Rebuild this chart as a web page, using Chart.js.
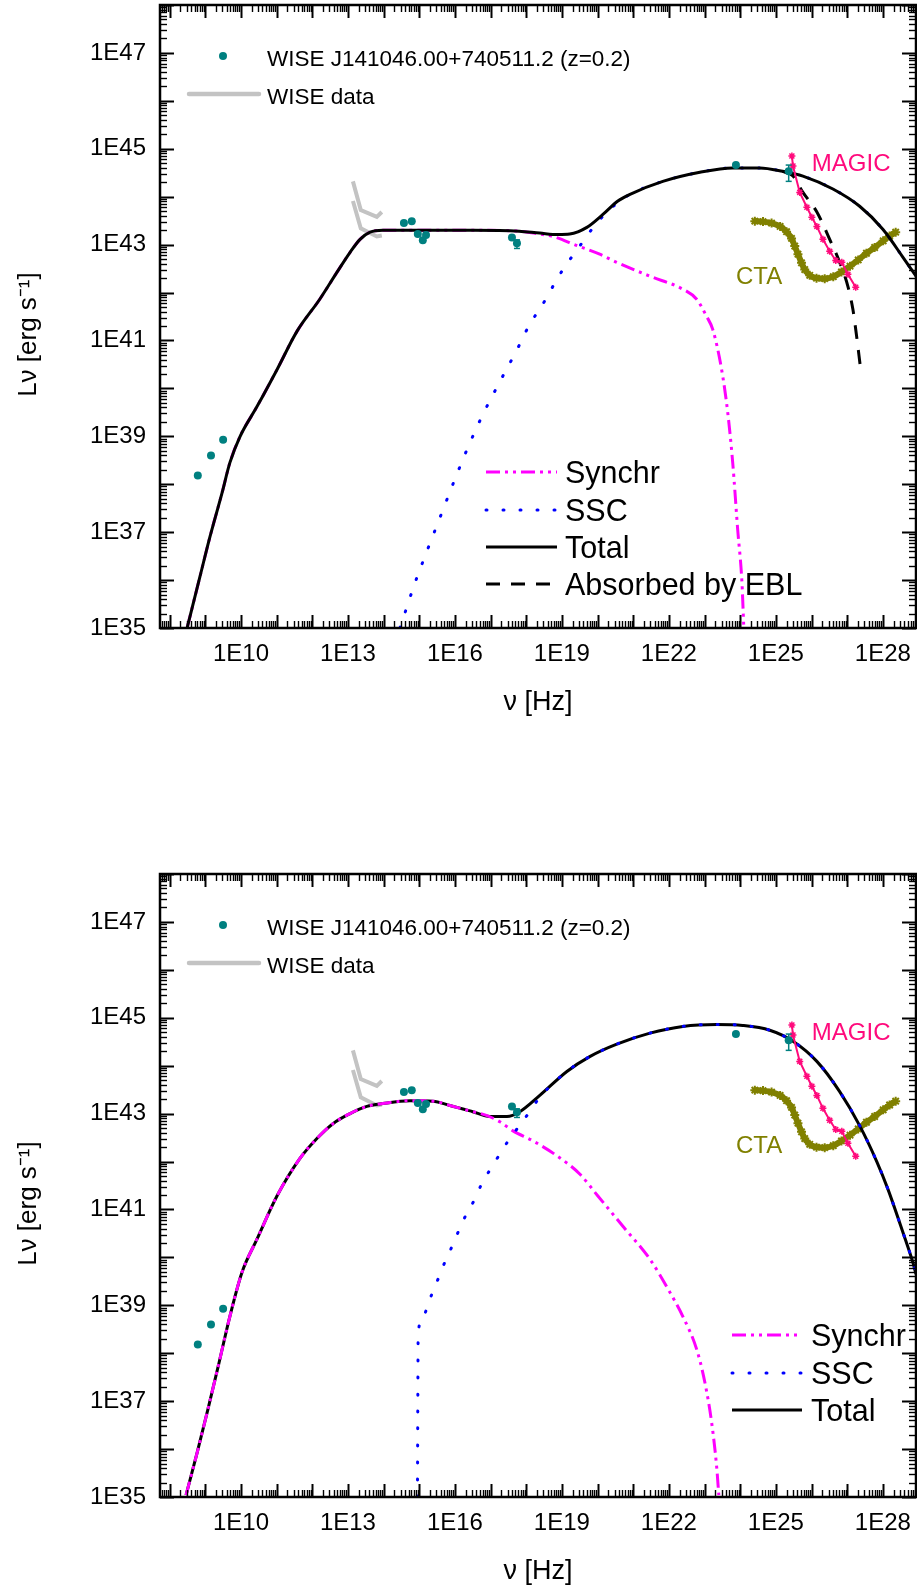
<!DOCTYPE html>
<html><head><meta charset="utf-8">
<script src="https://cdn.jsdelivr.net/npm/chart.js@4.4.1/dist/chart.umd.min.js"></script>
<style>
html,body{margin:0;padding:0;background:#fff;}
.wrap{position:absolute;left:0;width:917px;height:719px;}
</style></head><body>
<div class="wrap" style="top:0"><canvas id="c1" width="917" height="719"></canvas></div>
<div class="wrap" style="top:869px"><canvas id="c2" width="917" height="719"></canvas></div>
<script>
// ---------- values (log10 of frequency [Hz] and log10 of luminosity [erg/s]) ----------
const xTickExps = [10, 13, 16, 19, 22, 25, 28];
const yTickExps = [35, 37, 39, 41, 43, 45, 47];

// observed data points
const obsNu = [8.79, 9.16, 9.50, 14.57, 14.79, 14.96, 15.19, 15.10, 17.60, 17.74, 23.88, 25.36];
const obsL  = [38.18, 38.60, 38.93, 43.45, 43.49, 43.22, 43.20, 43.09, 43.15, 43.03, 44.66, 44.53];
// error bars
const errNu = [17.74, 25.36];
const errLo = [42.92, 44.32];
const errHi = [43.10, 44.66];

// WISE data (two gray polylines)
const wise1Nu = [13.14, 13.36, 13.81, 13.95];
const wise1L  = [44.32, 43.72, 43.58, 43.68];
const wise2Nu = [13.14, 13.36, 13.81, 13.95];
const wise2L  = [43.91, 43.34, 43.17, 43.19];

// MAGIC sensitivity
const magicNu = [25.45, 25.48, 25.67, 25.87, 26.01, 26.15, 26.32, 26.51, 26.68, 26.85, 27.02, 27.24];
const magicL  = [44.85, 44.64, 44.09, 43.78, 43.57, 43.38, 43.11, 42.86, 42.67, 42.63, 42.38, 42.11];
// CTA sensitivity
const ctaNu = [24.41, 24.64, 24.88, 25.12, 25.30, 25.44, 25.53, 25.62, 25.72, 25.81, 25.95, 26.14, 26.37, 26.61, 26.84, 27.08, 27.31, 27.54, 27.77, 28.01, 28.19, 28.36];
const ctaL  = [43.49, 43.48, 43.45, 43.38, 43.27, 43.13, 42.97, 42.80, 42.62, 42.48, 42.36, 42.30, 42.29, 42.33, 42.43, 42.55, 42.68, 42.82, 42.94, 43.08, 43.18, 43.26];

// ---- top panel model ----
const synchTopNu = [8.49, 8.85, 9.13, 9.47, 9.69, 9.97, 10.45, 11.01, 11.57, 12.21, 12.69, 13.06, 13.34, 13.62, 13.98, 15.0, 16.5, 17.8, 18.38, 18.75, 19.42, 20.06, 20.54, 21.47, 22.39, 22.78, 23.06, 23.23, 23.48, 23.65, 23.79, 23.93, 24.05, 24.10];
const synchTopL  = [35.0, 36.07, 36.90, 37.82, 38.45, 38.99, 39.62, 40.39, 41.19, 41.86, 42.42, 42.84, 43.11, 43.26, 43.30, 43.30, 43.30, 43.28, 43.22, 43.17, 42.98, 42.80, 42.63, 42.34, 42.07, 41.86, 41.50, 41.23, 40.39, 39.50, 38.45, 37.05, 35.94, 35.02];
const sscTopNu = [14.46, 14.88, 15.24, 15.61, 15.97, 16.36, 16.78, 17.26, 17.77, 18.05, 18.58, 18.86, 19.17, 19.50, 19.84, 20.29, 20.71, 20.91, 21.83, 22.87, 23.79, 24.55, 25.19, 25.76, 26.60, 27.35, 28.00, 28.56, 28.95];
const sscTopL  = [35.0, 35.94, 36.65, 37.36, 38.05, 38.76, 39.45, 40.14, 40.85, 41.27, 41.90, 42.28, 42.63, 42.97, 43.32, 43.70, 43.95, 44.05, 44.32, 44.51, 44.60, 44.60, 44.53, 44.43, 44.16, 43.80, 43.32, 42.74, 42.32];
const totalTopNu = [8.49, 8.85, 9.13, 9.47, 9.69, 9.97, 10.45, 11.01, 11.57, 12.21, 12.69, 13.06, 13.34, 13.62, 13.98, 15.0, 16.5, 17.8, 18.38, 18.9, 19.22, 19.70, 20.15, 20.57, 20.91, 21.83, 22.87, 23.79, 24.55, 25.19, 25.76, 26.60, 27.35, 28.00, 28.56, 28.95];
const totalTopL  = [35.0, 36.07, 36.90, 37.82, 38.45, 38.99, 39.62, 40.39, 41.19, 41.86, 42.42, 42.84, 43.11, 43.26, 43.30, 43.30, 43.30, 43.28, 43.24, 43.21, 43.22, 43.36, 43.63, 43.91, 44.05, 44.32, 44.51, 44.60, 44.60, 44.53, 44.43, 44.16, 43.80, 43.32, 42.74, 42.32];
const eblNu = [25.19, 25.48, 25.76, 26.15, 26.51, 26.79, 27.02, 27.16, 27.24, 27.38];
const eblL  = [44.53, 44.43, 44.09, 43.68, 43.11, 42.63, 42.13, 41.65, 41.23, 40.39];

// ---- bottom panel model ----
const synchBotNu = [8.46, 8.77, 9.07, 9.36, 9.69, 10.03, 10.45, 11.01, 11.65, 12.13, 12.58, 13.06, 13.53, 13.98, 14.74, 15.38, 15.86, 16.50, 16.90, 17.26, 17.63, 18.19, 18.86, 19.50, 20.01, 20.71, 21.47, 22.03, 22.39, 22.78, 23.01, 23.20, 23.34, 23.40];
const synchBotL  = [35.04, 35.92, 36.82, 37.72, 38.77, 39.69, 40.38, 41.28, 42.06, 42.48, 42.79, 43.00, 43.15, 43.21, 43.27, 43.26, 43.17, 43.04, 42.96, 42.83, 42.64, 42.43, 42.12, 41.74, 41.28, 40.65, 39.96, 39.27, 38.77, 38.08, 37.39, 36.55, 35.63, 35.04];
const sscBotNu = [14.95, 14.96, 14.97, 15.10, 15.27, 15.47, 15.66, 15.86, 16.08, 16.28, 16.56, 16.78, 17.06, 17.35, 17.68, 18.02, 18.38, 19.14, 19.78, 20.54, 21.47, 22.39, 23.34, 24.07, 24.83, 25.48, 26.15, 26.79, 27.35, 27.83, 28.14, 28.56, 28.84, 28.93];
const sscBotL  = [35.0, 37.0, 38.39, 38.75, 39.08, 39.44, 39.80, 40.13, 40.51, 40.84, 41.22, 41.58, 41.91, 42.27, 42.62, 42.96, 43.34, 43.88, 44.19, 44.45, 44.68, 44.82, 44.86, 44.84, 44.74, 44.51, 44.09, 43.46, 42.75, 42.00, 41.43, 40.53, 39.90, 39.65];
const totalBotNu = [8.46, 8.77, 9.07, 9.36, 9.69, 10.03, 10.45, 11.01, 11.65, 12.13, 12.58, 13.06, 13.53, 13.98, 14.74, 15.38, 15.86, 16.50, 16.98, 17.46, 17.82, 18.38, 19.14, 19.78, 20.54, 21.47, 22.39, 23.34, 24.07, 24.83, 25.48, 26.15, 26.79, 27.35, 27.83, 28.14, 28.56, 28.84, 28.93];
const totalBotL  = [35.04, 35.92, 36.82, 37.72, 38.77, 39.69, 40.38, 41.28, 42.06, 42.48, 42.79, 43.00, 43.15, 43.21, 43.27, 43.26, 43.17, 43.04, 42.94, 42.94, 43.04, 43.38, 43.88, 44.19, 44.45, 44.68, 44.82, 44.86, 44.84, 44.74, 44.51, 44.09, 43.46, 42.75, 42.00, 41.43, 40.53, 39.90, 39.65];

// ---------- rendering ----------
const FONT = "'Liberation Sans', Arial, sans-serif";
Chart.defaults.font.family = FONT;
Chart.defaults.color = '#000';

const pts = (nu, L) => nu.map((v, i) => ({x: Math.pow(10, v), y: Math.pow(10, L[i])}));

const STY = {
  synch: {color: '#FF00FF', width: 3, dash: [14, 5, 3, 5, 3, 5], cap: 'butt'},
  ssc:   {color: '#0000FF', width: 3, dash: [1, 16], cap: 'round'},
  total: {color: '#000000', width: 3, dash: [], cap: 'butt'},
  ebl:   {color: '#000000', width: 3, dash: [14, 11], cap: 'butt'}
};
const TEAL = '#008080', GRAY = '#C3C3C3', MAGENTA_RED = '#FF0A7C', OLIVE = '#808000';

function lineDS(label, data, s, order) {
  return {label, data, showLine: true, pointRadius: 0, borderColor: s.color, borderWidth: s.width,
          borderDash: s.dash, borderCapStyle: s.cap, cubicInterpolationMode: 'monotone', order, fill: false};
}
function commonDS() {
  return [
    {label: 'WISE J141046.00+740511.2 (z=0.2)', data: pts(obsNu, obsL), showLine: false,
     pointRadius: 4, pointBackgroundColor: TEAL, pointBorderColor: TEAL, pointBorderWidth: 0, order: 0},
    {label: 'MAGIC', data: pts(magicNu, magicL), showLine: true, borderColor: MAGENTA_RED, borderWidth: 2,
     pointStyle: 'star', pointRadius: 3.5, pointBorderColor: MAGENTA_RED, pointBorderWidth: 1.5, order: 1},
    {label: 'CTA', data: pts(ctaNu, ctaL), showLine: true, borderColor: OLIVE, borderWidth: 6,
     cubicInterpolationMode: 'monotone',
     pointStyle: 'star', pointRadius: 4.5, pointBorderColor: OLIVE, pointBorderWidth: 2, order: 6},
    {label: 'WISE data', data: pts(wise1Nu, wise1L), showLine: true, borderColor: GRAY, borderWidth: 4,
     pointRadius: 0, order: 8},
    {label: 'WISE data 2', data: pts(wise2Nu, wise2L), showLine: true, borderColor: GRAY, borderWidth: 4,
     pointRadius: 0, order: 8}
  ];
}

const framePlugin = {
  id: 'frame',
  afterDatasetsDraw(chart) {
    const {ctx, chartArea: a, scales: {x, y}} = chart;
    ctx.save();
    ctx.strokeStyle = '#000';
    const seg = (x1, y1, x2, y2) => { ctx.beginPath(); ctx.moveTo(x1, y1); ctx.lineTo(x2, y2); ctx.stroke(); };
    for (let e = 7; e <= 29; e++) for (let k = 1; k <= 9; k++) {
      const v = k * Math.pow(10, e);
      if (v < x.min || v > x.max) continue;
      const p = Math.round(x.getPixelForValue(v)) + 0.5;
      const len = k === 1 ? 13 : 7;
      ctx.lineWidth = k === 1 ? 2 : 1.4;
      seg(p, a.bottom, p, a.bottom - len);
      seg(p, a.top, p, a.top + len);
    }
    for (let e = 34; e <= 48; e++) for (let k = 1; k <= 9; k++) {
      const v = k * Math.pow(10, e);
      if (v < y.min || v > y.max) continue;
      const p = Math.round(y.getPixelForValue(v)) + 0.5;
      const len = k === 1 ? 14 : 7;
      ctx.lineWidth = k === 1 ? 2 : 1.4;
      seg(a.left, p, a.left + len, p);
      seg(a.right, p, a.right - len, p);
    }
    ctx.lineWidth = 2.5;
    ctx.strokeRect(a.left, a.top, a.right - a.left, a.bottom - a.top);
    // error bars
    ctx.strokeStyle = TEAL; ctx.lineWidth = 1.5;
    errNu.forEach((nu, i) => {
      const px = x.getPixelForValue(Math.pow(10, nu));
      const p1 = y.getPixelForValue(Math.pow(10, errLo[i]));
      const p2 = y.getPixelForValue(Math.pow(10, errHi[i]));
      seg(px, p1, px, p2); seg(px - 3, p1, px + 3, p1); seg(px - 3, p2, px + 3, p2);
    });
    // instrument labels placed in data coordinates
    ctx.font = '24px ' + FONT; ctx.textBaseline = 'alphabetic'; ctx.textAlign = 'left';
    ctx.fillStyle = MAGENTA_RED;
    ctx.fillText('MAGIC', x.getPixelForValue(Math.pow(10, 26.01)), y.getPixelForValue(Math.pow(10, 44.53)));
    ctx.fillStyle = OLIVE;
    ctx.fillText('CTA', x.getPixelForValue(Math.pow(10, 23.88)), y.getPixelForValue(Math.pow(10, 42.17)));
    ctx.restore();
  }
};

function legendLine(ctx, x1, x2, yy, s) {
  ctx.save(); ctx.strokeStyle = s.color; ctx.lineWidth = s.width; ctx.setLineDash(s.dash || []);
  ctx.lineCap = s.cap || 'butt';
  ctx.beginPath(); ctx.moveTo(x1, yy); ctx.lineTo(x2, yy); ctx.stroke(); ctx.restore();
}
const legendPlugin = {
  id: 'customLegend',
  afterDraw(chart, args, opts) {
    const ctx = chart.ctx;
    ctx.save();
    // small legend
    ctx.fillStyle = TEAL; ctx.beginPath(); ctx.arc(223, 56, 4, 0, Math.PI * 2); ctx.fill();
    legendLine(ctx, 189, 259, 94, {color: GRAY, width: 4.5, cap: 'round'});
    ctx.fillStyle = '#000'; ctx.font = '22.5px ' + FONT; ctx.textAlign = 'left'; ctx.textBaseline = 'alphabetic';
    ctx.fillText('WISE J141046.00+740511.2 (z=0.2)', 267, 66);
    ctx.fillText('WISE data', 267, 104);
    // model legend
    ctx.font = '30.5px ' + FONT;
    opts.items.forEach((it, i) => {
      const yy = opts.rows[i];
      legendLine(ctx, opts.x1, opts.x2, yy, STY[it.key]);
      ctx.fillStyle = '#000';
      ctx.fillText(it.text, opts.tx, yy + 10.5);
    });
    ctx.restore();
  }
};

const noPad = s => { s.paddingTop = 0; s.paddingBottom = 0; s.paddingLeft = 0; s.paddingRight = 0; };

function makeChart(id, datasets, legendOpts) {
  return new Chart(document.getElementById(id), {
    type: 'scatter',
    data: {datasets},
    plugins: [framePlugin, legendPlugin],
    options: {
      responsive: false, animation: false, devicePixelRatio: 1,
      layout: {autoPadding: false, padding: {left: 13, top: 5, right: 1, bottom: 0}},
      plugins: {legend: {display: false}, tooltip: {enabled: false}, customLegend: legendOpts},
      scales: {
        x: {
          type: 'logarithmic', min: Math.pow(10, 7.73), max: Math.pow(10, 28.93),
          grid: {display: false, drawTicks: false, tickLength: 0}, border: {display: false},
          afterBuildTicks: s => { s.ticks = xTickExps.map(e => ({value: Math.pow(10, e)})); },
          afterFit: s => { s.height = 91; noPad(s); },
          ticks: {autoSkip: false, maxRotation: 0, padding: 12, font: {size: 24},
                  callback: v => '1E' + Math.round(Math.log10(v))},
          title: {display: true, text: 'ν [Hz]', font: {size: 27}, padding: {top: 0, bottom: 0}}
        },
        y: {
          type: 'logarithmic', min: 1e35, max: 1e48,
          grid: {display: false, drawTicks: false, tickLength: 0}, border: {display: false},
          afterBuildTicks: s => { s.ticks = yTickExps.map(e => ({value: Math.pow(10, e)})); },
          afterFit: s => { s.width = 147; noPad(s); },
          ticks: {autoSkip: false, padding: 14, font: {size: 24},
                  callback: v => '1E' + Math.round(Math.log10(v))},
          title: {display: true, text: 'Lν [erg s⁻¹]     ', font: {size: 26}, padding: {top: 0, bottom: 0}}
        }
      }
    }
  });
}

// top panel
makeChart('c1', [
  ...commonDS(),
  lineDS('Absorbed by EBL', pts(eblNu, eblL), STY.ebl, 2),
  lineDS('Total', pts(totalTopNu, totalTopL), STY.total, 3),
  lineDS('SSC', pts(sscTopNu, sscTopL), STY.ssc, 4),
  lineDS('Synchr', pts(synchTopNu, synchTopL), STY.synch, 5)
], {x1: 486, x2: 557, tx: 565, rows: [472, 510, 547, 584],
    items: [{key: 'synch', text: 'Synchr'}, {key: 'ssc', text: 'SSC'}, {key: 'total', text: 'Total'}, {key: 'ebl', text: 'Absorbed by EBL'}]});

// bottom panel
makeChart('c2', [
  ...commonDS(),
  lineDS('SSC', pts(sscBotNu, sscBotL), STY.ssc, 2),
  lineDS('Synchr', pts(synchBotNu, synchBotL), STY.synch, 3),
  lineDS('Total', pts(totalBotNu, totalBotL), STY.total, 4)
], {x1: 732, x2: 802, tx: 811, rows: [466, 504, 541],
    items: [{key: 'synch', text: 'Synchr'}, {key: 'ssc', text: 'SSC'}, {key: 'total', text: 'Total'}]});
</script></body></html>
